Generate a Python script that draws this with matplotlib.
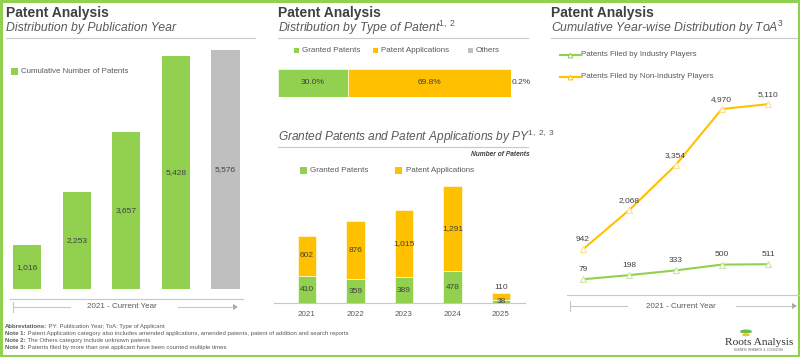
import matplotlib
matplotlib.use('Agg')
import matplotlib.pyplot as plt
from matplotlib.patches import Rectangle, Ellipse, Polygon

plt.rcParams['font.family'] = ['Liberation Sans', 'DejaVu Sans']
plt.rcParams['mathtext.fontset'] = 'custom'
plt.rcParams['mathtext.rm'] = 'Liberation Sans'
plt.rcParams['mathtext.it'] = 'Liberation Sans:italic'

# --- data ---
py_years = ['2021', '2022', '2023', '2024', '2025']
cumulative = [1016, 2253, 3657, 5428, 5576]

type_labels = ['Granted Patents', 'Patent Applications', 'Others']
type_share = [30.0, 69.8, 0.2]

granted = [410, 359, 389, 478, 38]
applications = [602, 876, 1015, 1291, 110]

industry = [79, 198, 333, 500, 511]
non_industry = [942, 2068, 3354, 4970, 5110]

GREEN = '#92D050'
ORANGE = '#FFC000'
GRAY = '#BFBFBF'
TXT = '#595959'
DARK = '#404040'
LINE = '#C8C8C8'

W, H = 800, 357
fig = plt.figure(figsize=(8, 3.57), dpi=100)
fig.patch.set_facecolor('white')

# overlay in pixel coordinates
ov = fig.add_axes([0, 0, 1, 1])
ov.set_xlim(0, W)
ov.set_ylim(H, 0)
ov.axis('off')


def px_axes(x0, y0, x1, y1):
    a = fig.add_axes([x0 / W, 1 - y1 / H, (x1 - x0) / W, (y1 - y0) / H])
    a.set_facecolor('none')
    for s in a.spines.values():
        s.set_visible(False)
    a.set_xticks([])
    a.set_yticks([])
    return a


def header(x, title, sub, x_end):
    ov.text(x, 12.5, title, fontsize=10, fontweight='bold', color=DARK, va='center')
    ov.text(x, 28, sub, fontsize=8.8, style='italic', color=TXT, va='center')
    ov.plot([x, x_end], [37.5, 37.5], color=LINE, lw=0.8)


def square(x, y, s, c):
    ov.add_patch(Rectangle((x, y - s / 2), s, s, color=c, lw=0))


def year_arrow(x0, x1, x2, x3, xt, y):
    ov.plot([x0, x0], [y - 5, y + 5], color=LINE, lw=0.8)
    ov.plot([x0, x1], [y, y], color=LINE, lw=0.8)
    ov.plot([x2, x3], [y, y], color=LINE, lw=0.8)
    ov.add_patch(Polygon([[x3, y - 3], [x3 + 5, y], [x3, y + 3]], color='#A6A6A6', lw=0))
    ov.text(xt, y, '2021 - Current Year', fontsize=5.8, color=TXT, ha='center', va='center')


# border
ov.add_patch(Rectangle((1, 1), W - 2, H - 2.5, fill=False, ec=GREEN, lw=2.2))

# ---------- panel 1 ----------
header(6, 'Patent Analysis', 'Distribution by Publication Year', 255)
square(11, 71.5, 7, GREEN)
ov.text(21, 71.5, 'Cumulative Number of Patents', fontsize=5.7, color=TXT, va='center')

ax1 = px_axes(2.25, 40, 250.25, 289)
ax1.set_xlim(-0.5, 4.5)
ax1.set_ylim(0, 5804)
cols1 = [GREEN] * 4 + [GRAY]
ax1.bar(range(5), cumulative, width=0.57, color=cols1)
for i, v in enumerate(cumulative):
    ax1.text(i, v / 2, f'{v:,}', fontsize=6, color=DARK, ha='center', va='center')

ov.plot([10, 243], [299, 299], color=LINE, lw=0.8)
year_arrow(13, 70, 178, 233, 122, 307)

notes = [
    ('Abbreviations:', ' PY: Publication Year; ToA: Type of Applicant'),
    ('Note 1:', ' Patent Application category also includes amended applications, amended patents, patent of addition and search reports'),
    ('Note 2:', ' The Others category include unknown patents'),
    ('Note 3:', ' Patents filed by more than one applicant have been counted multiple times'),
]
renderer = fig.canvas.get_renderer()
for k, (b, rest) in enumerate(notes):
    y = 328 + k * 7
    t = ov.text(5, y, b, fontsize=4.3, fontweight='bold', color=TXT, va='baseline')
    bb = t.get_window_extent(renderer)
    ov.text(5 + bb.width, y, rest, fontsize=4.3, color=TXT, va='baseline')

# ---------- panel 2 ----------
header(278, 'Patent Analysis', 'Distribution by Type of Patent$^{1,\\ 2}$', 528)
leg_x = [(294, 302), (373, 381), (468, 476)]
for (sx, tx), lab, c in zip(leg_x, type_labels, [GREEN, ORANGE, GRAY]):
    square(sx, 50, 5, c)
    ov.text(tx, 50, lab, fontsize=5.8, color=TXT, va='center')

ax2 = px_axes(278, 69, 511, 97)
ax2.set_xlim(0, 100)
ax2.set_ylim(0, 1)
left = 0
for v, c in zip(type_share, [GREEN, ORANGE, GRAY]):
    ax2.barh(0.5, v, left=left, height=1, color=c, ec=c if c == GRAY else 'white',
             lw=0.8 if c == GRAY else 0.4)
    left += v
ax2.text(type_share[0] / 2, 0.5, f'{type_share[0]:.1f}%', fontsize=6, color=DARK, ha='center', va='center')
ax2.text(type_share[0] + type_share[1] / 2, 0.5, f'{type_share[1]:.1f}%', fontsize=6, color=DARK,
         ha='center', va='center')
ax2.text(100.4, 0.5, f'{type_share[2]:.1f}%', fontsize=6, color=DARK, ha='left', va='center', clip_on=False)

ov.text(278, 137, 'Granted Patents and Patent Applications by PY$^{1,\\ 2,\\ 3}$', fontsize=8.6,
        style='italic', color=TXT, va='center')
ov.plot([278, 528], [146.5, 146.5], color=LINE, lw=0.8)
ov.text(530, 154.5, 'Number of Patents', fontsize=4.8, fontweight='bold', style='italic', color=DARK,
        ha='right', va='center')
square(300, 170, 7, GREEN)
ov.text(310, 170, 'Granted Patents', fontsize=5.8, color=TXT, va='center')
square(395, 170, 7, ORANGE)
ov.text(406, 170, 'Patent Applications', fontsize=5.8, color=TXT, va='center')

ax3 = px_axes(282.75, 180, 525.25, 303)
ax3.set_xlim(-0.5, 4.5)
ax3.set_ylim(0, 1858)
x = range(5)
ax3.bar(x, granted, width=0.39, color=GREEN, ec='white', lw=0.4)
ax3.bar(x, applications, bottom=granted, width=0.39, color=ORANGE, ec='white', lw=0.4)
for i, (g, a) in enumerate(zip(granted, applications)):
    ax3.text(i, g / 2, f'{g:,}', fontsize=6, color=DARK, ha='center', va='center')
    if i < 4:
        ax3.text(i, g + a / 2, f'{a:,}', fontsize=6, color=DARK, ha='center', va='center')
    else:
        ax3.annotate(f'{a:,}', (i, g + a), xytext=(0, 1.5), textcoords='offset points',
                     fontsize=6, color=DARK, ha='center', va='bottom')
ax3.set_xticks(list(x))
ax3.set_xticklabels(py_years, fontsize=5.8, color=TXT)
ax3.tick_params(axis='x', length=0, pad=6)
ov.plot([274, 525], [303, 303], color=LINE, lw=0.8)

# ---------- panel 3 ----------
header(551, 'Patent Analysis', 'Cumulative Year-wise Distribution by ToA$^{3}$', 797)
for y, c, lab in [(55, GREEN, 'Patents Filed by Industry Players'),
                  (77, ORANGE, 'Patents Filed by Non-Industry Players')]:
    ov.plot([560, 580], [y, y], color=c, lw=1.5)
    ov.plot([570], [y], marker='^', ms=3.5, mfc='white', mec=c, mew=0.7, color=c)
    ov.text(581, y, lab, fontsize=5.7, color=TXT, va='center')

ax4 = px_axes(559.9, 90, 791.1, 282)
ax4.set_xlim(-0.5, 4.5)
ax4.set_ylim(0, 5517)
for vals, c, lc in [(non_industry, ORANGE, '#FFE08A'), (industry, GREEN, '#C6E8A0')]:
    ax4.plot(x, vals, color=c, lw=1.5, marker='^', ms=4.5, mfc='white', mec=lc, mew=0.8)
    for i, v in enumerate(vals):
        ax4.annotate(f'{v:,}', (i, v), xytext=(0, 4.5), textcoords='offset points',
                     fontsize=6, color=DARK, ha='center', va='bottom')
ov.plot([567, 800], [295, 295], color=LINE, lw=0.8)
year_arrow(570, 627, 736, 792, 681, 306)

# logo
ov.add_patch(Ellipse((746, 331.5), 12, 4, color='#6DBE45', lw=0))
ov.add_patch(Ellipse((746, 335), 8, 2.5, color='#F2C12E', lw=0))
ov.text(759, 342.5, 'Roots Analysis', fontsize=8.2, family='Liberation Serif', color='#333333',
        ha='center', va='center')
ov.text(759, 350, 'BUSINESS  RESEARCH  &  CONSULTING', fontsize=1.8, color='#555555',
        ha='center', va='center')

fig.savefig('out.png', dpi=100, facecolor='white')
